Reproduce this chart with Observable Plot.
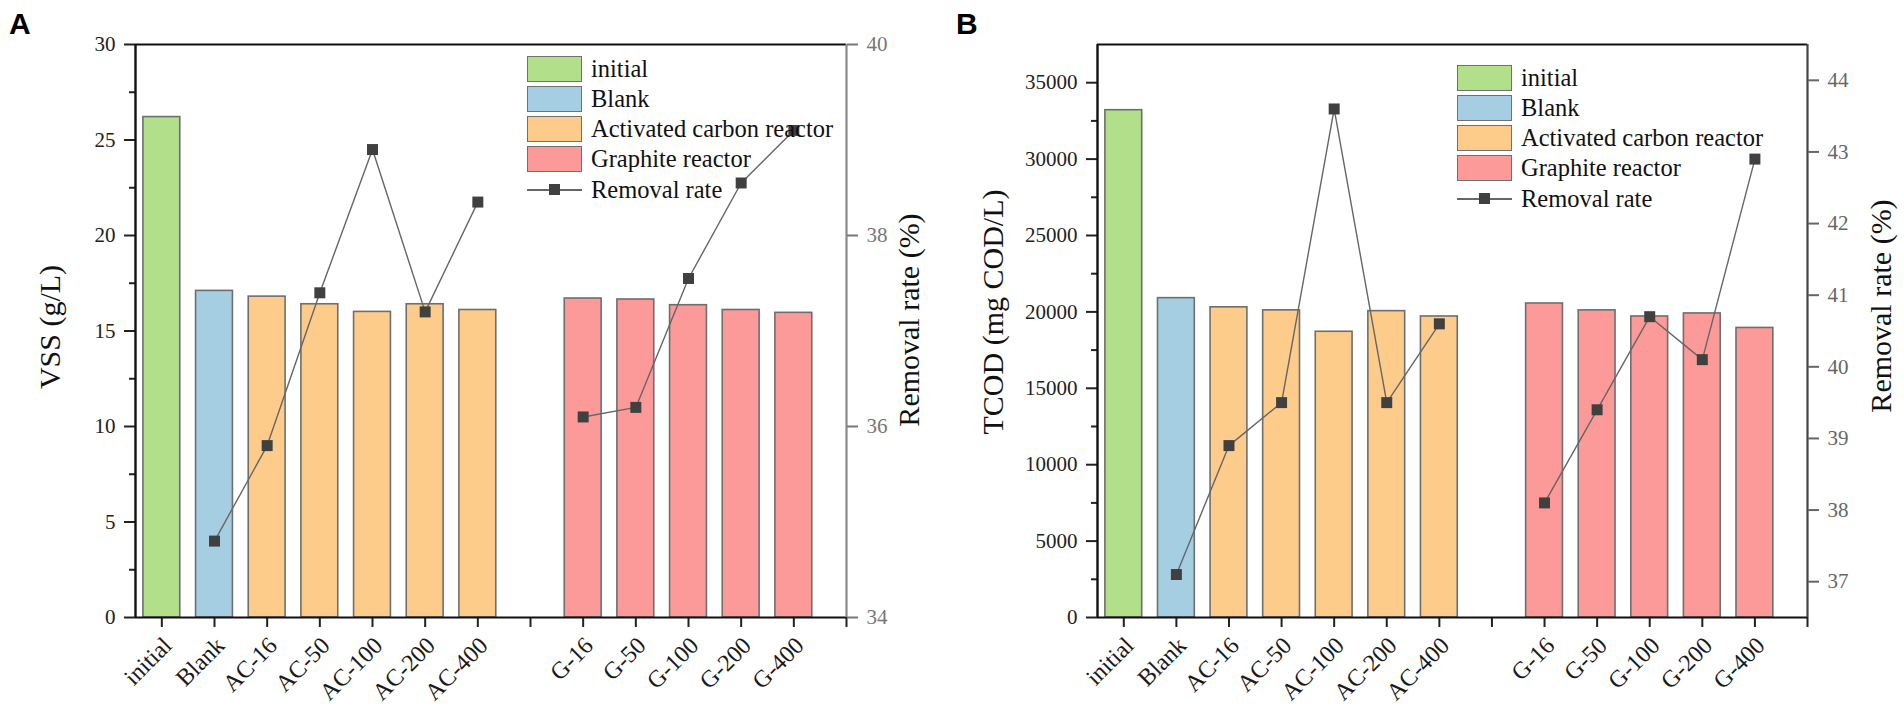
<!DOCTYPE html>
<html>
<head>
<meta charset="utf-8">
<script src="https://cdn.jsdelivr.net/npm/d3@7"></script>
<script src="https://cdn.jsdelivr.net/npm/@observablehq/plot@0.6"></script>
<style>
  body { margin: 0; background: #fff; }
  #root { position: relative; width: 1904px; height: 712px; overflow: hidden;
          font-family: "Liberation Serif", "Times New Roman", serif; }
  .layer { position: absolute; top: 0; width: 952px; height: 712px; }
  .layer svg { position: absolute; left: 0; top: 0; }
  .plabel { position: absolute; font-family: "Liberation Sans", Arial, sans-serif;
            font-weight: bold; font-size: 30px; line-height: 30px; color: #000; }
  .legend { position: absolute; font-size: 24.5px; color: #111; }
  .legend .row { display: flex; align-items: center; height: 30px; }
  .legend .sw { width: 55px; height: 26px; box-sizing: border-box; border: 1.5px solid #707070; margin-right: 9px; }
  .legend .ln { width: 55px; height: 26px; position: relative; margin-right: 9px; }
  .legend .ln::before { content: ""; position: absolute; left: 0; right: 0; top: 12px; height: 1.5px; background: #666; }
  .legend .ln::after { content: ""; position: absolute; left: 22px; top: 7px; width: 11px; height: 11px; background: #404040; }
</style>
</head>
<body>
<div id="root"></div>
<script>
// ---------- data ----------
const categories = ["initial", "Blank", "AC-16", "AC-50", "AC-100", "AC-200", "AC-400", "", "G-16", "G-50", "G-100", "G-200", "G-400"];
const groups = ["initial", "Blank", "AC", "AC", "AC", "AC", "AC", null, "G", "G", "G", "G", "G"];

const vss = [26.2, 17.1, 16.8, 16.4, 16.0, 16.4, 16.1, null, 16.7, 16.65, 16.35, 16.1, 15.95];
const vssRemoval = [null, 34.8, 35.8, 37.4, 38.9, 37.2, 38.35, null, 36.1, 36.2, 37.55, 38.55, 39.1];

const tcod = [33200, 20900, 20300, 20100, 18700, 20050, 19700, null, 20550, 20100, 19700, 19900, 18950];
const tcodRemoval = [null, 37.1, 38.9, 39.5, 43.6, 39.5, 40.6, null, 38.1, 39.4, 40.7, 40.1, 42.9];

const legendGroups = ["initial", "Blank", "AC", "G"];
const legendLabels = ["initial", "Blank", "Activated carbon reactor", "Graphite reactor"];
const legendColors = ["#B2DF8A", "#A6CEE3", "#FDCC8A", "#FB9A99"];
const lineLabel = "Removal rate";

const vssTicks = [0, 5, 10, 15, 20, 25, 30];
const vssMinorTicks = [2.5, 7.5, 12.5, 17.5, 22.5, 27.5];
const vssRateTicks = [34, 36, 38, 40];
const tcodTicks = [0, 5000, 10000, 15000, 20000, 25000, 30000, 35000];
const tcodMinorTicks = [2500, 7500, 12500, 17500, 22500, 27500, 32500];
const tcodRateTicks = [37, 38, 39, 40, 41, 42, 43, 44];
const xTickPositions = [1, 2, 3, 4, 5, 6, 7, 8, 9, 10, 11, 12, 13, 14];

// ---------- drawing ----------
const root = document.getElementById("root");
const FONT = '"Liberation Serif", "Times New Roman", serif';

function panel(cfg) {
  const rows = categories.map((c, k) => ({ i: k + 1, c, g: groups[k], v: cfg.values[k], r: cfg.rates[k] }));
  const bars = rows.filter(d => d.v != null);
  const labeled = rows.filter(d => d.c !== "");
  const pts = rows.filter(d => d.r != null);

  const layer = document.createElement("div");
  layer.className = "layer";
  layer.style.left = cfg.left + "px";
  root.appendChild(layer);

  const common = {
    width: 952, height: 712,
    marginLeft: cfg.ml, marginRight: cfg.mr, marginTop: 44, marginBottom: 95,
    x: { type: "linear", domain: [0.5, 14], axis: null },
    style: { fontFamily: FONT, fontSize: "21px", background: "transparent", overflow: "visible" }
  };

  const main = Plot.plot({
    ...common,
    y: { domain: cfg.yDomain, axis: null },
    color: { type: "ordinal", domain: legendGroups, range: legendColors },
    marks: [
      Plot.rect(bars, { x1: d => d.i - 0.35, x2: d => d.i + 0.35, y1: 0, y2: "v", fill: "g", stroke: "#6e6e6e", strokeWidth: 1.6 }),
      Plot.axisY({ ticks: cfg.yTicks, tickSize: 11, tickPadding: 9, fontSize: 21, color: "#222", strokeWidth: 2, label: null, tickFormat: d => String(d) }),
      Plot.axisY({ ticks: cfg.yMinor, tickSize: 6, tickPadding: 0, color: "#222", strokeWidth: 2, label: null, tickFormat: () => "" }),
      Plot.axisX({ ticks: xTickPositions, tickSize: 10, tickPadding: 0, color: "#222", strokeWidth: 2, label: null, tickFormat: () => "" }),
      Plot.text(labeled, { x: "i", text: "c", frameAnchor: "bottom", rotate: -45, textAnchor: "end", lineAnchor: "middle",
                           dx: 6, dy: 24, fontSize: 24, fill: "#1a1a1a" }),
      Plot.ruleY([cfg.yDomain[0]], { stroke: "#111", strokeWidth: 2.2 }),
      Plot.ruleY([cfg.yDomain[1]], { stroke: "#111", strokeWidth: 2.2 }),
      Plot.ruleX([0.5], { stroke: "#111", strokeWidth: 2.4 }),
      Plot.text([cfg.yLabel], { text: d => d, frameAnchor: "left", textAnchor: "middle", lineAnchor: "middle",
                                dx: cfg.ylDx, dy: cfg.ylDy, rotate: -90, fontSize: 30, fill: "#111" })
    ]
  });
  layer.appendChild(main);

  const over = Plot.plot({
    ...common,
    y: { domain: cfg.rDomain, axis: null },
    marks: [
      Plot.ruleX([14], { stroke: cfg.rAxisColor, strokeWidth: 2.2 }),
      Plot.axisY({ anchor: "right", ticks: cfg.rTicks, tickSize: 11, tickPadding: 9, fontSize: 21, color: cfg.rTextColor, strokeWidth: 2, label: null, tickFormat: d => String(d) }),
      Plot.line(rows, { x: "i", y: "r", stroke: "#666", strokeWidth: 1.4 }),
      Plot.dot(pts, { x: "i", y: "r", symbol: "square", r: 6.2, fill: "#404040", stroke: "none" }),
      Plot.text([cfg.rLabel], { text: d => d, frameAnchor: "right", textAnchor: "middle", lineAnchor: "middle",
                                dx: cfg.rlDx, dy: cfg.rlDy, rotate: -90, fontSize: 30, fill: "#111" })
    ]
  });
  layer.appendChild(over);

  // panel letter
  const pl = document.createElement("div");
  pl.className = "plabel";
  pl.textContent = cfg.letter;
  pl.style.left = cfg.letterX + "px";
  pl.style.top = "9px";
  layer.appendChild(pl);

  // legend
  const lg = document.createElement("div");
  lg.className = "legend";
  lg.style.left = cfg.legendX + "px";
  lg.style.top = cfg.legendY + "px";
  legendLabels.forEach((lab, k) => {
    const row = document.createElement("div");
    row.className = "row";
    const sw = document.createElement("div");
    sw.className = "sw";
    sw.style.background = legendColors[k];
    const t = document.createElement("span");
    t.textContent = lab;
    row.appendChild(sw); row.appendChild(t);
    lg.appendChild(row);
  });
  const row = document.createElement("div");
  row.className = "row";
  row.style.marginTop = "1px";
  const ln = document.createElement("div");
  ln.className = "ln";
  const t = document.createElement("span");
  t.textContent = lineLabel;
  row.appendChild(ln); row.appendChild(t);
  lg.appendChild(row);
  layer.appendChild(lg);
}

panel({
  left: 0, ml: 135, mr: 106,
  values: vss, rates: vssRemoval,
  yDomain: [0, 30], yTicks: vssTicks, yMinor: vssMinorTicks,
  rDomain: [34, 40], rTicks: vssRateTicks,
  yLabel: "VSS (g/L)", ylDx: -85, ylDy: -4,
  rLabel: "Removal rate (%)", rlDx: 63, rlDy: -11,
  rAxisColor: "#8a8a8a", rTextColor: "#777",
  letter: "A", letterX: 9,
  legendX: 527, legendY: 54
});

panel({
  left: 952, ml: 145, mr: 97,
  values: tcod, rates: tcodRemoval,
  yDomain: [0, 37500], yTicks: tcodTicks, yMinor: tcodMinorTicks,
  rDomain: [36.5, 44.5], rTicks: tcodRateTicks,
  yLabel: "TCOD (mg COD/L)", ylDx: -104, ylDy: -19,
  rLabel: "Removal rate (%)", rlDx: 74, rlDy: -25,
  rAxisColor: "#444", rTextColor: "#666",
  letter: "B", letterX: 4,
  legendX: 505, legendY: 63
});
</script>
</body>
</html>
